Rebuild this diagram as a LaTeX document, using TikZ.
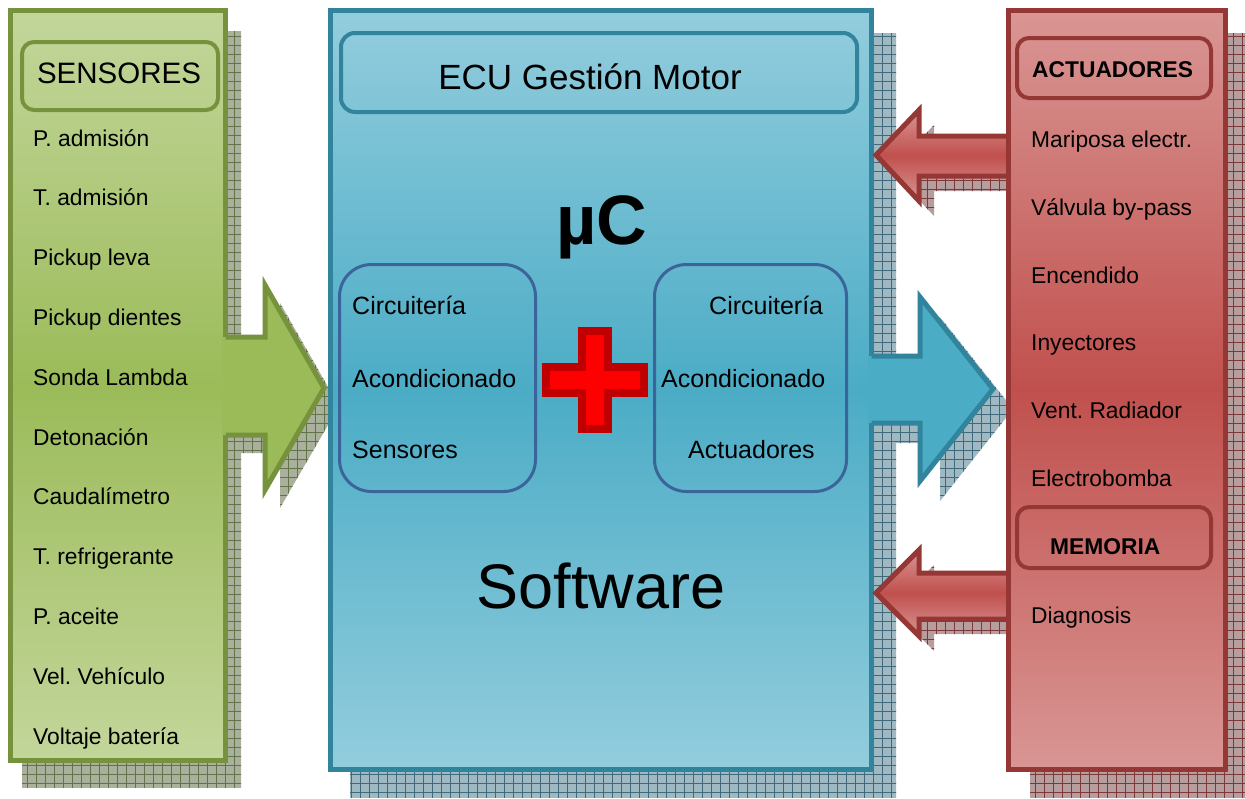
\documentclass[tikz,border=0pt]{standalone}
\usepackage{fontspec}
\setmainfont{Liberation Sans}
\frenchspacing
\definecolor{grnB}{HTML}{76923C}
\definecolor{grnL}{HTML}{C3D69B}
\definecolor{grnM}{HTML}{9BBB59}
\definecolor{bluB}{HTML}{31849B}
\definecolor{bluL}{HTML}{93CDDD}
\definecolor{bluM}{HTML}{4BACC6}
\definecolor{redB}{HTML}{953735}
\definecolor{redL}{HTML}{D99694}
\definecolor{redM}{HTML}{C0504D}
\definecolor{innB}{HTML}{3B659A}
\definecolor{gshF}{HTML}{A9B09C}
\definecolor{gshL}{HTML}{627249}
\definecolor{bshF}{HTML}{9FB8C1}
\definecolor{bshL}{HTML}{3E6A7B}
\definecolor{rshF}{HTML}{B69E9E}
\definecolor{rshL}{HTML}{7F3838}
\definecolor{crossF}{HTML}{FF0000}
\definecolor{crossB}{HTML}{C00000}
% hatched drop shadow: #1 path, #2 fill colour, #3 grid colour
\newcommand{\hatchshadow}[3]{%
  \begin{scope}
    \clip #1;
    \fill[#2] (0,0) rectangle (1245,798);
    \draw[#3, line width=0.7pt] (0,798) grid[step=9pt] (1245,0);
  \end{scope}}
\tikzset{
  panelshade/.style 2 args={top color=#1, bottom color=#1, middle color=#2},
  item/.style={anchor=base west, inner sep=0pt, font=\fontsize{22.8}{26}\selectfont},
  inner/.style={anchor=base west, inner sep=0pt, font=\fontsize{25}{29}\selectfont},
  heading/.style={anchor=base west, inner sep=0pt, font=\fontsize{22.8}{26}\selectfont\bfseries},
}
\begin{document}
\begin{tikzpicture}[x=1pt,y=-1pt,line join=miter]
\useasboundingbox (0,0) rectangle (1245,798);
\fill[white] (0,0) rectangle (1245,798);

% ---- shadows ----
\hatchshadow{(22,31) rectangle (241,787)}{gshF}{gshL}
\hatchshadow{(350,33) rectangle (896,798)}{bshF}{bshL}
\hatchshadow{(1030,33) rectangle (1245,798)}{rshF}{rshL}
% arrow shadows
\hatchshadow{(241,355) -- (280,355) -- (280,303) -- (339,406) -- (280,508) -- (280,453) -- (241,453) -- cycle}{gshF}{gshL}
\hatchshadow{(892,376) -- (940,376) -- (940,317) -- (1013,409) -- (940,501) -- (940,443) -- (892,443) -- cycle}{bshF}{bshL}
\hatchshadow{(1022,151) -- (934,151) -- (934,125) -- (891,170) -- (934,216) -- (934,191) -- (1022,191) -- cycle}{rshF}{rshL}
\hatchshadow{(1022,588) -- (934,588) -- (934,565) -- (891,608) -- (934,651) -- (934,634) -- (1022,634) -- cycle}{rshF}{rshL}

% ---- main panels ----
\shade[panelshade={grnL}{grnM}] (10.5,10.5) rectangle (225.5,760.5);
\draw[grnB, line width=5pt] (10.5,10.5) rectangle (225.5,760.5);
\shade[panelshade={bluL}{bluM}] (330.5,10.5) rectangle (871.5,769.5);
\draw[bluB, line width=5pt] (330.5,10.5) rectangle (871.5,769.5);
\shade[panelshade={redL}{redM}] (1008.5,10.5) rectangle (1225.5,769.5);

% ---- arrows ----
\fill[grnM] (222,337) -- (265,337) -- (265,285) -- (324,388) -- (265,490) -- (265,435) -- (222,435) -- cycle;
\draw[grnB, line width=5pt] (225.5,337) -- (265,337) -- (265,285) -- (324,388) -- (265,490) -- (265,435) -- (225.5,435);
\fill[bluM] (868,356) -- (920,356) -- (920,297) -- (993,389) -- (920,481) -- (920,423) -- (868,423) -- cycle;
\draw[bluB, line width=5pt] (871.5,356) -- (920,356) -- (920,297) -- (993,389) -- (920,481) -- (920,423) -- (871.5,423);
\shade[panelshade={redL}{redM}] (1008.5,136) -- (919,136) -- (919,110) -- (876,155) -- (919,201) -- (919,176) -- (1008.5,176) -- cycle;
\draw[redB, line width=5pt] (1008.5,136) -- (919,136) -- (919,110) -- (876,155) -- (919,201) -- (919,176) -- (1008.5,176);
\shade[panelshade={redL}{redM}] (1008.5,573) -- (919,573) -- (919,550) -- (876,593) -- (919,636) -- (919,619) -- (1008.5,619) -- cycle;
\draw[redB, line width=5pt] (1008.5,573) -- (919,573) -- (919,550) -- (876,593) -- (919,636) -- (919,619) -- (1008.5,619);
% the actuator panel frame stays unbroken across the arrow shafts
\draw[redB, line width=5pt] (1008.5,10.5) rectangle (1225.5,769.5);

% ---- title boxes ----
\draw[grnB, line width=4pt, rounded corners=12pt] (22,42) rectangle (218,110);
\draw[bluB, line width=4pt, rounded corners=14pt] (341,33) rectangle (857,112);
\draw[redB, line width=4pt, rounded corners=12pt] (1017,38) rectangle (1211,98);
\draw[redB, line width=4pt, rounded corners=12pt] (1017,507) rectangle (1211,568);
\draw[innB, line width=3pt, rounded corners=32pt] (339.5,264.5) rectangle (535.5,491.5);
\draw[innB, line width=3pt, rounded corners=32pt] (654.5,264.5) rectangle (846.5,491.5);

% ---- plus sign ----
\filldraw[fill=crossF, draw=crossB, line width=8pt]
  (582,331) -- (608,331) -- (608,367) -- (644,367) -- (644,393) -- (608,393) -- (608,429)
  -- (582,429) -- (582,393) -- (546,393) -- (546,367) -- (582,367) -- cycle;

% ---- texts ----
\node[anchor=base, inner sep=0pt, font=\fontsize{29.5}{34}\selectfont] (sens) at (119,83) {SENSORES};
\node[anchor=base, inner sep=0pt, font=\fontsize{35}{40}\selectfont] (ecu) at (590,89) {ECU Gestión Motor};
\node[anchor=base, inner sep=0pt, font=\fontsize{70}{80}\selectfont\bfseries] (uc) at (602,244) {µC};
\node[anchor=base, inner sep=0pt, font=\fontsize{63}{70}\selectfont] (sw) at (601,608) {Software};

\node[item] (s1) at (33,146) {P. admisión};
\node[item] (s2) at (33,205.8) {T. admisión};
\node[item] (s3) at (33,265.6) {Pickup leva};
\node[item] (s4) at (33,325.4) {Pickup dientes};
\node[item] (s5) at (33,385.2) {Sonda Lambda};
\node[item] (s6) at (33,445) {Detonación};
\node[item] (s7) at (33,504.8) {Caudalímetro};
\node[item] (s8) at (33,564.6) {T. refrigerante};
\node[item] (s9) at (33,624.4) {P. aceite};
\node[item] (s10) at (33,684.2) {Vel. Vehículo};
\node[item] (s11) at (33,744) {Voltaje batería};

\node[inner] (l1) at (352,314) {Circuitería};
\node[inner] (l2) at (352,387) {Acondicionado};
\node[inner] (l3) at (352,458) {Sensores};
\node[inner] (r1) at (709,314) {Circuitería};
\node[inner] (r2) at (661,387) {Acondicionado};
\node[inner] (r3) at (688,458) {Actuadores};

\node[heading] (act) at (1032,77) {ACTUADORES};
\node[item] (a1) at (1031,147.5) {Mariposa electr.};
\node[item] (a2) at (1031,215.3) {Válvula by-pass};
\node[item] (a3) at (1031,283.1) {Encendido};
\node[item] (a4) at (1031,350.9) {Inyectores};
\node[item] (a5) at (1031,418.7) {Vent. Radiador};
\node[item] (a6) at (1031,486.5) {Electrobomba};
\node[heading] (mem) at (1050,554) {MEMORIA};
\node[item] (d1) at (1031,623) {Diagnosis};
\end{tikzpicture}
\end{document}
